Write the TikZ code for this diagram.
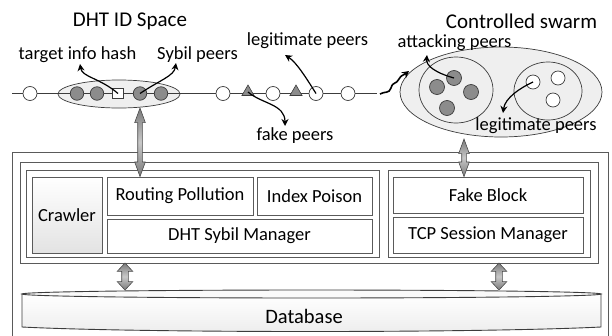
\documentclass[tikz,border=0pt]{standalone}
\usepackage{fontspec}
\setmainfont{Carlito}
\usetikzlibrary{shapes.geometric,shapes.arrows,arrows.meta,calc}

\definecolor{edge}{HTML}{5A5A5A}
\definecolor{edgedark}{HTML}{3C3C3C}
\definecolor{peerfill}{HTML}{8C8C8C}
\definecolor{regionfill}{HTML}{EFEFEF}
\definecolor{arrowfill}{HTML}{7A7A7A}
\definecolor{arrowlight}{HTML}{C8C8C8}
\definecolor{arrowedge}{HTML}{4A4A4A}

\newcommand\lblfont{\fontsize{18.5}{20}\selectfont}
\newcommand\ttlfont{\fontsize{21}{24}\selectfont}
\newcommand\dbfont{\fontsize{20.5}{23}\selectfont}

% block arrow placed between two named points: style, from, to, name
\newcommand\linkarrow[4]{%
  \path let \p1=(#2), \p2=(#3), \n1={veclen(\x2-\x1,\y2-\y1)} in
    node[#1, minimum height=\n1] (#4) at ($(#2)!0.5!(#3)$) {};}

\tikzset{
  panel/.style={draw=edge, line width=0.9pt},
  box/.style={draw=edge, line width=0.9pt, fill=white, inner sep=0pt, font=\lblfont},
  peer/.style={circle, draw=edgedark, line width=0.7pt, fill=white, minimum size=14pt, inner sep=0pt},
  sybil/.style={peer, fill=peerfill, minimum size=13.5pt},
  fakepeer/.style={regular polygon, regular polygon sides=3, draw=edgedark, fill=peerfill,
    line width=0.6pt, minimum size=14pt, inner sep=0pt},
  hashbox/.style={rectangle, draw=edgedark, fill=white, minimum size=10.5pt, inner sep=0pt, line width=0.7pt},
  region/.style={ellipse, draw=edgedark, line width=0.7pt, fill=regionfill, inner sep=0pt},
  pointer/.style={draw=black, line width=1.2pt, -{Stealth[length=7pt,width=7pt]}},
  txt/.style={font=\lblfont, inner sep=0pt},
  thinlink/.style={double arrow, rotate=90, draw=arrowedge, line width=0.6pt,
    top color=arrowfill, bottom color=arrowfill, middle color=arrowlight,
    inner sep=0pt, inner ysep=2pt, double arrow head extend=3pt,
    double arrow tip angle=40, minimum width=0pt},
  thicklink/.style={double arrow, rotate=90, draw=arrowedge, line width=0.6pt,
    top color=arrowfill, bottom color=arrowfill, middle color=arrowlight,
    inner sep=0pt, inner ysep=3pt, double arrow head extend=4.5pt,
    double arrow tip angle=86, minimum width=0pt},
}

\begin{document}
\begin{tikzpicture}[x=1pt,y=-1pt]
\useasboundingbox (0,0) rectangle (612,335);

% ---------- titles ----------
\node[font=\ttlfont, inner sep=0pt] (ttl1) at (130,21) {DHT ID Space};
\node[font=\ttlfont, inner sep=0pt] (ttl2) at (521.5,21) {Controlled swarm};

% ---------- DHT ID space ----------
\node[region, minimum width=122pt, minimum height=28pt] (dht) at (119,94) {};
\coordinate (lineL) at (12,93.5);
\coordinate (lineR) at (377,93.5);
\draw[edgedark, line width=0.9pt] (lineL) -- (lineR);

\node[peer]  (p1) at (30,93.5) {};
\node[sybil] (s1) at (77,93.5) {};
\node[sybil] (s2) at (97,93.5) {};
\node[hashbox] (th) at (118,93.5) {};
\node[sybil] (s3) at (140,93.5) {};
\node[sybil] (s4) at (161,93.5) {};
\node[peer]  (p2) at (223,93.5) {};
\node[fakepeer] (f1) at (248,92) {};
\node[peer]  (p3) at (273,93.5) {};
\node[fakepeer] (f2) at (296,92) {};
\node[peer]  (p4) at (316,93.5) {};
\node[peer]  (p5) at (348,93.5) {};

% ---------- controlled swarm ----------
\node[region, minimum width=202pt, minimum height=90pt] (swarm) at (501,92) {};
\node[region, minimum width=74pt, minimum height=66pt] (atk) at (456,90) {};
\node[region, minimum width=68pt, minimum height=58pt] (leg) at (548,91) {};
\node[sybil, minimum size=15pt] (a1) at (437,87) {};
\node[sybil, minimum size=15pt] (a2) at (454,78) {};
\node[sybil, minimum size=15pt] (a3) at (471,92) {};
\node[sybil, minimum size=15pt] (a4) at (447,108) {};
\node[peer] (l1) at (533,82) {};
\node[peer] (l2) at (558,78) {};
\node[peer] (l3) at (553,100) {};

% ---------- labels and pointers ----------
\node[txt] (tTarget) at (77.5,55) {target info hash};
\node[txt] (tSybil) at (197.5,55) {Sybil peers};
\node[txt] (tLegit1) at (307.5,41) {legitimate peers};
\node[txt] (tFake) at (295,136) {fake peers};
\node[txt] (tAttack) at (454.5,43) {attacking peers};
\node[txt] (tLegit2) at (536,126) {legitimate peers};

\coordinate (tipTarget) at (80,64);
\coordinate (tipSybil) at (176,63);
\coordinate (tipLegit1) at (285,55);
\coordinate (tipFake) at (285,126);
\coordinate (tipAttack) at (427,55);
\coordinate (tipLegit2) at (503,113);

\draw[pointer] (th.center) .. controls (100,78) and (82,77) .. (tipTarget);
\draw[pointer] (s3.center) .. controls (160,80) and (174,76) .. (tipSybil);
\draw[pointer] (p4.center) .. controls (305,76) and (296,62) .. (tipLegit1);
\draw[pointer] (f1.center) .. controls (262,104) and (285,104) .. (tipFake);
\draw[pointer] (a2.center) .. controls (436,73) and (426,66) .. (tipAttack);
\draw[pointer] (l1.center) .. controls (520,88) and (505,98) .. (tipLegit2);

% wavy link from the DHT line to the swarm
\coordinate (waveA) at (380,94);
\coordinate (waveB) at (409,71);
\draw[black, line width=1.6pt, -{Stealth[length=7pt,width=7.5pt]}]
  (waveA) .. controls (385,91) and (389,94) .. (391,88)
          .. controls (393,81) and (396,85) .. (399,79)
          .. controls (401,75) and (404,75) .. (waveB);

% ---------- system frame ----------
\draw[panel] (12,336) -- (12,152) -- (608,152) -- (608,336);
\draw[panel] (20,162) rectangle (598,263);
\draw[panel] (26,170) rectangle (379,257);
\draw[panel] (388,170) rectangle (590,257);

\node[box, minimum width=70pt, minimum height=76pt, top color=white, bottom color=gray!22] (crawl) at (67,215) {Crawler};
\node[box, minimum width=146pt, minimum height=38pt] (rp) at (180,196) {Routing Pollution};
\node[box, minimum width=115pt, minimum height=38pt] (ip) at (314.5,196) {Index Poison};
\node[box, minimum width=265pt, minimum height=34pt] (dsm) at (239.5,236) {DHT Sybil Manager};
\node[box, minimum width=190pt, minimum height=36pt] (fb) at (488,195) {Fake Block};
\node[box, minimum width=190pt, minimum height=36pt] (tcp) at (488,235) {TCP Session Manager};

% ---------- database ----------
\path[draw=edgedark, line width=0.9pt, top color=white, bottom color=gray!14]
  (22,294) -- (22,327) .. controls (140,333) and (480,333) .. (601,327) -- (601,294) -- cycle;
\draw[edgedark, line width=0.9pt, fill=gray!4] (311.5,294) ellipse [x radius=289.5, y radius=4];
\node[font=\dbfont, inner sep=0pt] (db) at (304,316) {Database};

% ---------- block arrows ----------
\coordinate (k1a) at (140,108);
\coordinate (k1b) at (k1a |- rp.north);
\linkarrow{thinlink}{k1a}{k1b}{lk1}
\coordinate (k2a) at (464,139);
\coordinate (k2b) at (k2a |- fb.north);
\linkarrow{thinlink}{k2a}{k2b}{lk2}
\coordinate (k3a) at (125,263);
\coordinate (k3b) at (125,290);
\linkarrow{thicklink}{k3a}{k3b}{lk3}
\coordinate (k4a) at (499,263);
\coordinate (k4b) at (499,290);
\linkarrow{thicklink}{k4a}{k4b}{lk4}
\end{tikzpicture}
\end{document}
